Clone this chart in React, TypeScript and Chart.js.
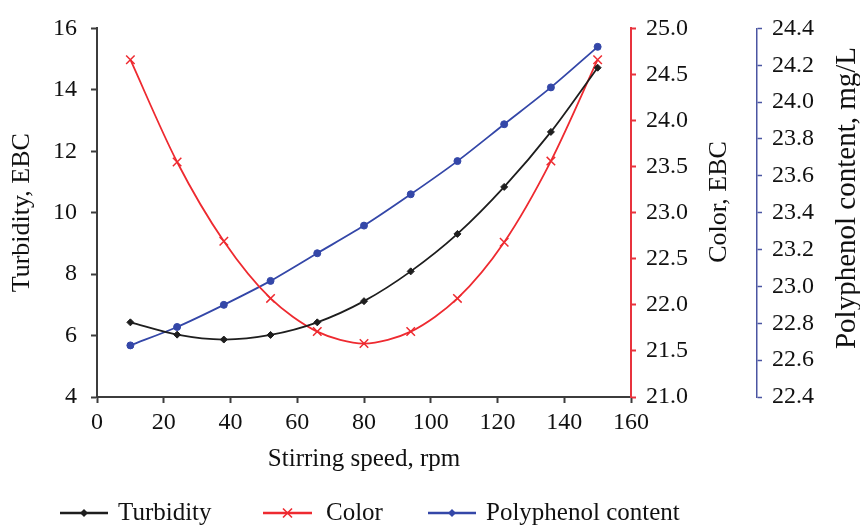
import React, { useEffect, useRef } from 'react';
import { Chart, registerables } from 'chart.js';

Chart.register(...registerables);

// ---- data ----
const speeds = [10, 24, 38, 52, 66, 80, 94, 108, 122, 136, 150];
const turbidity = [6.43, 6.03, 5.87, 6.02, 6.43, 7.12, 8.09, 9.31, 10.84, 12.63, 14.72];
const color = [24.66, 23.55, 22.69, 22.07, 21.71, 21.58, 21.71, 22.07, 22.68, 23.56, 24.66];
const polyphenol = [22.68, 22.78, 22.9, 23.03, 23.18, 23.33, 23.5, 23.68, 23.88, 24.08, 24.3];

const seriesLabels = ['Turbidity', 'Color', 'Polyphenol content'];
const xTitle = 'Stirring speed, rpm';
const yTitle = 'Turbidity, EBC';
const y1Title = 'Color, EBC';
const y2Title = 'Polyphenol content, mg/L';

const SERIF = "'Liberation Serif', 'Times New Roman', serif";
const BLACK = '#1e1e1e';
const RED = '#ee2a30';
const BLUE = '#3447a8';
const AXIS_GRAY = '#3c3c3c';
const AXIS_RED = '#e8333d';
const AXIS_BLUE = '#4b55a2';

function drawMarker(ctx: CanvasRenderingContext2D, style: string, x: number, y: number, r: number, col: string) {
  ctx.save();
  ctx.fillStyle = col;
  ctx.strokeStyle = col;
  ctx.lineWidth = 1.6;
  ctx.beginPath();
  if (style === 'rectRot') {
    ctx.moveTo(x, y - r);
    ctx.lineTo(x + r, y);
    ctx.lineTo(x, y + r);
    ctx.lineTo(x - r, y);
    ctx.closePath();
    ctx.fill();
  } else if (style === 'crossRot') {
    ctx.moveTo(x - r * 0.75, y - r * 0.75);
    ctx.lineTo(x + r * 0.75, y + r * 0.75);
    ctx.moveTo(x + r * 0.75, y - r * 0.75);
    ctx.lineTo(x - r * 0.75, y + r * 0.75);
    ctx.stroke();
  } else {
    ctx.arc(x, y, r, 0, Math.PI * 2);
    ctx.fill();
  }
  ctx.restore();
}

const extrasPlugin = {
  id: 'extras',
  afterDraw(chart: any) {
    const ctx: CanvasRenderingContext2D = chart.ctx;
    ctx.save();
    // right-hand axis titles, reading bottom to top
    ctx.fillStyle = '#111';
    ctx.textAlign = 'center';
    ctx.textBaseline = 'middle';
    const titles = [
      { text: y1Title, x: 719, y: 202, size: 26 },
      { text: y2Title, x: 847, y: 198, size: 29 },
    ];
    for (const t of titles) {
      ctx.save();
      ctx.font = `${t.size}px ${SERIF}`;
      ctx.translate(t.x, t.y);
      ctx.rotate(-Math.PI / 2);
      ctx.fillText(t.text, 0, 0);
      ctx.restore();
    }
    // legend
    const items = [
      { text: seriesLabels[0], col: BLACK, style: 'rectRot', r: 4, x0: 60, x1: 108, tx: 118 },
      { text: seriesLabels[1], col: RED, style: 'crossRot', r: 6, x0: 263, x1: 312, tx: 326 },
      { text: seriesLabels[2], col: BLUE, style: 'rectRot', r: 4, x0: 428, x1: 476, tx: 486 },
    ];
    const ly = 513;
    ctx.font = `25px ${SERIF}`;
    ctx.textAlign = 'left';
    for (const it of items) {
      ctx.strokeStyle = it.col;
      ctx.lineWidth = 2.5;
      ctx.beginPath();
      ctx.moveTo(it.x0, ly);
      ctx.lineTo(it.x1, ly);
      ctx.stroke();
      drawMarker(ctx, it.style, (it.x0 + it.x1) / 2, ly, it.r, it.col);
      ctx.fillStyle = '#111';
      ctx.fillText(it.text, it.tx, ly);
    }
    ctx.restore();
  },
};

export default function App() {
  const ref = useRef<HTMLCanvasElement>(null);
  useEffect(() => {
    const tickFont = { family: SERIF, size: 24 };
    const titleFont = { family: SERIF, size: 26 };
    const chart = new Chart(ref.current as HTMLCanvasElement, {
      type: 'line',
      data: {
        datasets: [
          {
            label: seriesLabels[0],
            data: speeds.map((x, i) => ({ x, y: turbidity[i] })),
            yAxisID: 'y',
            borderColor: BLACK,
            backgroundColor: BLACK,
            borderWidth: 1.8,
            pointStyle: 'rectRot',
            pointRadius: 3.5,
            pointBorderWidth: 1,
            tension: 0.3,
          },
          {
            label: seriesLabels[1],
            data: speeds.map((x, i) => ({ x, y: color[i] })),
            yAxisID: 'y1',
            borderColor: RED,
            backgroundColor: RED,
            borderWidth: 1.8,
            pointStyle: 'crossRot',
            pointRadius: 6,
            pointBorderWidth: 1.5,
            tension: 0.3,
          },
          {
            label: seriesLabels[2],
            data: speeds.map((x, i) => ({ x, y: polyphenol[i] })),
            yAxisID: 'y2',
            borderColor: BLUE,
            backgroundColor: BLUE,
            borderWidth: 1.8,
            pointStyle: 'circle',
            pointRadius: 3.5,
            pointBorderWidth: 1,
            tension: 0.3,
          },
        ],
      } as any,
      options: {
        animation: false,
        responsive: true,
        maintainAspectRatio: false,
        layout: { padding: { top: 21, left: 0, right: 0, bottom: 0 } },
        plugins: { legend: { display: false }, tooltip: { enabled: false } },
        scales: {
          x: {
            type: 'linear',
            min: 0,
            max: 160,
            ticks: { stepSize: 20, font: tickFont, color: '#111', padding: 5, maxRotation: 0 },
            grid: { display: true, drawOnChartArea: false, drawTicks: true, tickLength: 6, tickColor: AXIS_GRAY, tickWidth: 2 },
            border: { display: true, color: AXIS_GRAY, width: 2 },
            title: { display: true, text: xTitle, font: { family: SERIF, size: 25 }, color: '#111', padding: { top: 0, bottom: 52 } },
            afterFit: (s: any) => { s.height = 129; },
          },
          y: {
            position: 'left',
            min: 4,
            max: 16,
            ticks: { stepSize: 2, font: tickFont, color: '#111', padding: 14 },
            grid: { display: true, drawOnChartArea: false, drawTicks: true, tickLength: 6, tickColor: AXIS_GRAY, tickWidth: 2 },
            border: { display: true, color: AXIS_GRAY, width: 2 },
            title: { display: true, text: yTitle, font: titleFont, color: '#111', padding: { top: 7, bottom: 0 } },
            afterFit: (s: any) => { s.width = 97; },
          },
          y1: {
            position: 'right',
            weight: 1,
            min: 21,
            max: 25,
            ticks: { stepSize: 0.5, font: tickFont, color: '#111', padding: 10, callback: (v: any) => Number(v).toFixed(1) },
            grid: { display: true, drawOnChartArea: false, drawTicks: true, tickLength: 5, tickColor: AXIS_RED, tickWidth: 2 },
            border: { display: true, color: AXIS_RED, width: 2 },
            afterFit: (s: any) => { s.width = 126; },
          },
          y2: {
            position: 'right',
            weight: 2,
            min: 22.4,
            max: 24.4,
            ticks: { stepSize: 0.2, font: tickFont, color: '#111', padding: 10, callback: (v: any) => Number(v).toFixed(1) },
            grid: { display: true, drawOnChartArea: false, drawTicks: true, tickLength: 5, tickColor: AXIS_BLUE, tickWidth: 1.5 },
            border: { display: true, color: AXIS_BLUE, width: 1.5 },
            afterFit: (s: any) => { s.width = 103; },
          },
        },
      } as any,
      plugins: [extrasPlugin],
    });
    return () => chart.destroy();
  }, []);

  return (
    <div style={{ position: 'fixed', left: 0, top: 0, width: 860, height: 526, background: '#fff' }}>
      <canvas ref={ref} />
    </div>
  );
}
